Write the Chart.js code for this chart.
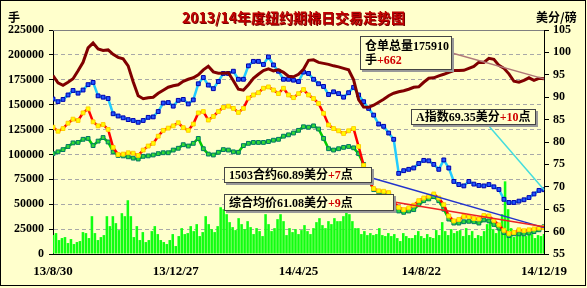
<!DOCTYPE html>
<html><head><meta charset="utf-8">
<script src="https://cdn.jsdelivr.net/npm/chart.js@4.4.0/dist/chart.umd.min.js"></script>
<style>
html,body{margin:0;padding:0;background:#fff;}
#wrap{position:relative;width:587px;height:288px;background:#FFFFCC;overflow:hidden;}
#c{position:absolute;left:0;top:0;}
.frame{position:absolute;left:0;top:0;width:584px;height:284px;border:1px solid #000;pointer-events:none;}
.t{position:absolute;white-space:nowrap;font-weight:bold;color:#000;}
.title{left:0;width:587px;text-align:center;top:7px;font:bold 14px "Noto Sans CJK SC",sans-serif;color:#c00000;text-shadow:1px 1px 0 #700;}
.unit{top:8px;font:bold 12px "Noto Sans CJK SC","Liberation Serif",sans-serif;}
.box{position:absolute;box-sizing:border-box;border:1px solid #444;background:#FFFFCC;box-shadow:2px 2px 0 #999;font:bold 12px "Liberation Serif","Noto Sans CJK SC",serif;color:#000;padding-left:4px;white-space:nowrap;line-height:14px;}
.r{color:#d00000;}
</style></head>
<body>
<div id="wrap">
<canvas id="c" width="587" height="288"></canvas>
<div class="frame"></div>
<div class="t title">2013/14年度纽约期棉日交易走势图</div>
<div class="t unit" style="left:8px;">手</div>
<div class="t unit" style="left:536px;">美分/磅</div>
<div class="box" style="left:360px;top:36px;width:92px;height:34px;padding-top:2px;">仓单总量175910<br>手<span class="r">+662</span></div>
<div class="box" style="left:411px;top:109px;width:125px;height:16px;">A指数69.35美分<span class="r">+10</span>点</div>
<div class="box" style="left:224px;top:167px;width:148px;height:16px;">1503合约60.89美分<span class="r">+7</span>点</div>
<div class="box" style="left:224px;top:194px;width:170px;height:17px;padding-top:1px;">综合均价61.08美分<span class="r">+9</span>点</div>
</div>
<script>
// x-axis tick labels (dates) and their day offsets from 2013-08-30
const tickLabels = ['13/8/30','13/12/27','14/4/25','14/8/22','14/12/19'];
const tickDays = [0,119,238,357,476];

// 仓单总量 (lots), left axis
const warrants = [179300,172000,169500,172500,176000,184000,192500,207000,212000,206000,
204500,205000,200500,197500,196000,189000,173000,159000,156000,157000,
157500,161500,164500,167500,169000,170000,173500,175500,177000,180000,
185000,188500,183000,181500,181500,182000,174000,165500,164500,170000,
176500,180500,184300,186000,184000,185000,182500,178500,178000,180500,
185500,194500,195000,192500,191500,190500,189000,188000,186500,185000,
175000,155000,147500,147300,149500,152500,155500,159000,161500,163000,
164000,165500,167500,168000,172500,176500,177000,179000,180500,182500,
184300,184300,184500,186500,188500,192700,192500,196500,195500,189500,
186500,181000,173500,172500,174500,177000,174500,176500,175910];

// A指数 (cents/lb), right axis
const aIndex = [89.6,89.0,89.5,90.5,91.5,90.9,91.6,92.8,93.3,90.3,
90.0,89.7,86.3,85.8,85.4,85.0,84.8,84.4,84.8,85.5,
85.6,86.8,88.7,88.8,88.0,89.3,89.5,88.5,89.4,93.0,
94.4,92.7,91.9,93.5,95.3,95.3,95.8,94.0,94.0,97.0,
98.0,98.0,97.3,99.0,97.2,95.8,94.0,94.0,93.8,93.5,
95.6,95.3,94.0,93.0,92.4,90.6,91.2,90.8,90.0,91.0,
92.2,90.5,89.0,87.5,86.0,84.0,83.5,82.0,80.6,73.0,
73.6,73.9,74.2,75.2,75.9,75.8,75.0,73.9,76.0,74.2,
71.2,70.5,70.2,71.2,70.6,70.3,70.2,70.5,70.0,69.4,
67.2,66.5,66.5,66.8,67.1,67.6,68.4,69.2,69.35];

// 1503合约 (cents/lb), right axis
const contract1503 = [83.3,82.4,83.0,84.2,85.1,84.8,86.5,87.4,84.5,83.6,
83.9,82.8,78.8,77.2,77.3,77.6,77.5,77.0,78.2,79.1,
79.7,81.3,82.6,83.1,83.6,84.3,83.2,82.6,84.0,86.5,
86.8,84.9,85.7,86.8,87.7,88.0,87.5,86.6,87.5,89.8,
90.5,91.0,92.0,92.3,91.6,90.8,92.0,90.5,89.9,90.8,
91.7,90.5,89.7,88.6,86.4,83.8,83.0,82.5,81.9,82.5,
83.0,79.0,74.8,71.4,69.6,69.1,69.0,68.7,66.6,65.4,
64.9,65.3,65.9,66.9,67.5,67.9,68.4,67.5,66.0,63.5,
62.4,62.7,63.4,63.3,62.9,62.8,63.6,63.5,62.5,61.5,
60.3,59.6,59.8,60.4,60.2,60.4,60.6,60.8,60.89];

// 综合均价 (cents/lb), right axis
const avgPrice = [77.4,77.8,78.3,79.0,79.8,79.9,80.6,80.8,79.2,80.2,
81.0,80.0,77.8,77.0,76.9,76.7,76.4,76.2,76.8,76.9,
77.1,77.4,77.6,77.6,78.2,78.6,79.4,79.1,79.7,80.8,
78.5,77.3,77.1,77.7,78.3,78.2,77.8,77.7,79.2,79.7,
79.9,79.9,79.9,80.1,80.4,80.6,81.3,81.6,82.0,82.6,
83.4,83.3,83.6,82.9,80.8,78.5,78.2,78.5,78.8,79.0,
78.7,77.4,75.0,71.5,69.4,68.9,68.6,68.3,66.0,64.6,
64.3,64.6,64.9,66.0,66.9,67.3,67.8,66.9,65.0,62.8,
61.9,61.9,62.2,62.3,62.2,61.9,62.6,62.4,61.6,60.8,
59.8,59.1,59.5,59.5,59.5,59.7,60.0,60.4,61.08];

// 成交量 (lots), left axis
const volume = [19000,21000,14000,16000,17000,11000,15000,10000,12000,13000,
22000,21000,16000,38000,21000,14000,17000,19000,38000,28000,
38000,31000,24000,41000,38000,54000,38000,17000,28000,14000,
22000,12000,14000,23000,28000,20000,14000,12000,10000,14000,
20000,8000,18000,26000,20000,21000,28000,23000,
30000,18000,22000,38000,30000,25000,22000,28000,47000,45000,
40000,32000,27000,24000,36000,30000,25000,33000,27000,20000,
26000,23000,18000,40000,30000,23000,26000,35000,40000,33000,
19000,26000,22000,25000,20000,
24000,29000,23000,20000,26000,32000,36000,29000,26000,33000,
30000,36000,33000,33000,38000,42000,40000,33000,26000,26000,
20000,23000,19000,21000,19000,20000,26000,19000,18000,21000,
18000,20000,16000,13000,21000,18000,16000,16000,19000,23000,
18000,16000,
20000,17000,16000,24000,19000,32000,23000,19000,25000,21000,
23000,24000,18000,26000,19000,23000,16000,19000,18000,23000,
30000,33000,25000,21000,29000,40000,73000,45000,26000,17000,
21000,19000,23000,18000,21000,20000,16000,19000,18000,20000];

const lastDay = tickDays[tickDays.length-1];
const toXY = arr => arr.map((v,i)=>({x: i*lastDay/(arr.length-1), y: v}));

const tickFont = {family:'"Liberation Serif", serif', size:12, weight:'bold'};
const xTickFont = {family:'"Liberation Serif", serif', size:13, weight:'bold'};

// callout leader lines: from label box edge to the last point of a dataset
const callouts = [
  {ds:1, from:[452,53], color:'#b07878'},
  {ds:2, from:[488,125], color:'#44dddd'},
  {ds:3, from:[372,178], color:'#2233cc'},
  {ds:4, from:[394,202], color:'#ee2222'}
];

const decor = {
  id:'decor',
  beforeDatasetsDraw(chart){
    const {ctx, chartArea:a} = chart;
    ctx.save();
    ctx.strokeStyle = '#808080'; ctx.lineWidth = 1;
    ctx.beginPath(); ctx.moveTo(a.left, a.top+0.5); ctx.lineTo(a.right, a.top+0.5); ctx.stroke();
    ctx.restore();
  },
  afterDatasetsDraw(chart){
    const ctx = chart.ctx;
    ctx.save();
    ctx.lineWidth = 1.5;
    callouts.forEach(c=>{
      const pts = chart.getDatasetMeta(c.ds).data;
      const p = pts[pts.length-1];
      ctx.strokeStyle = c.color;
      ctx.beginPath(); ctx.moveTo(c.from[0], c.from[1]); ctx.lineTo(p.x, p.y); ctx.stroke();
    });
    ctx.restore();
  }
};

new Chart(document.getElementById('c'), {
  data:{
    datasets:[
      {type:'bar', label:'成交量', data:toXY(volume), yAxisID:'y', backgroundColor:'#11ff11', barPercentage:0.85, categoryPercentage:1, order:6},
      {type:'line', label:'仓单总量', data:toXY(warrants), yAxisID:'y', borderColor:'#800000', borderWidth:3, pointRadius:0, order:1},
      {type:'line', label:'A指数', data:toXY(aIndex), yAxisID:'y1', borderColor:'#22ccff', borderWidth:2.5,
        pointStyle:'rect', pointRadius:2.7, pointBackgroundColor:'#2255ff', pointBorderColor:'#0000aa', pointBorderWidth:1, order:2},
      {type:'line', label:'1503合约', data:toXY(contract1503), yAxisID:'y1', borderColor:'#ff0000', borderWidth:2.5,
        pointStyle:'rect', pointRadius:2.7, pointBackgroundColor:'#ffff00', pointBorderColor:'#ffd000', pointBorderWidth:1, order:3},
      {type:'line', label:'综合均价', data:toXY(avgPrice), yAxisID:'y1', borderColor:'#00cc00', borderWidth:2.5,
        pointStyle:'rect', pointRadius:2.7, pointBackgroundColor:'#33dd33', pointBorderColor:'#007766', pointBorderWidth:1, order:4}
    ]
  },
  options:{
    responsive:false, animation:false, devicePixelRatio:1,
    layout:{padding:{top:30,left:0,right:0,bottom:0}},
    plugins:{legend:{display:false}, tooltip:{enabled:false}, title:{display:false}},
    scales:{
      x:{type:'linear', min:0, max:lastDay, offset:false,
        afterBuildTicks:s=>{ s.ticks = tickDays.map(v=>({value:v})); },
        ticks:{callback:(v,i)=>tickLabels[i], font:xTickFont, color:'#000', padding:10, maxRotation:0, autoSkip:false},
        grid:{display:false, drawTicks:false, offset:false}, border:{display:true, color:'#000', width:1},
        afterFit:s=>{ s.height = 34; }},
      y:{position:'left', min:0, max:225000,
        ticks:{stepSize:25000, font:tickFont, color:'#000', padding:5, callback:v=>String(v)},
        grid:{color:'#a8a8a8', tickColor:'#000', tickLength:4},
        border:{display:true, color:'#000', width:1, dash:[4,3]},
        afterFit:s=>{ s.width = 53; }},
      y1:{position:'right', min:55, max:105,
        ticks:{stepSize:5, font:tickFont, color:'#000', padding:4, callback:v=>String(v)},
        grid:{drawOnChartArea:false, color:'#000', tickLength:5},
        border:{display:true, color:'#000', width:1},
        afterFit:s=>{ s.width = 43; }}
    }
  },
  plugins:[decor]
});
</script>
</body></html>
